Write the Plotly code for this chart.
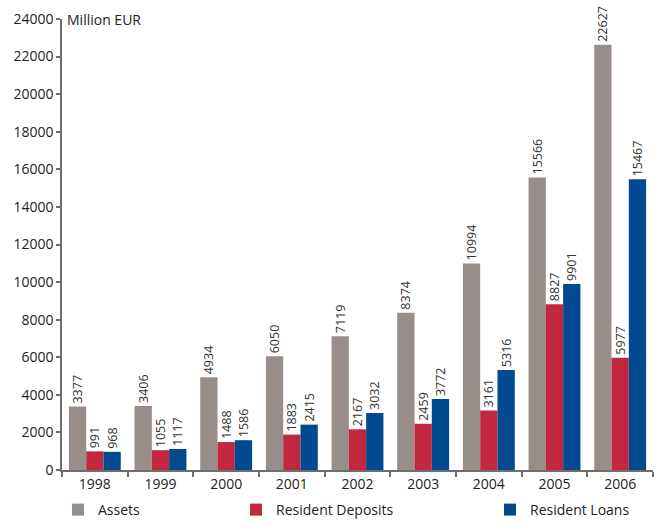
import plotly.graph_objects as go

years = ["1998", "1999", "2000", "2001", "2002", "2003", "2004", "2005", "2006"]
assets = [3377, 3406, 4934, 6050, 7119, 8374, 10994, 15566, 22627]
deposits = [991, 1055, 1488, 1883, 2167, 2459, 3161, 8827, 5977]
loans = [968, 1117, 1586, 2415, 3032, 3772, 5316, 9901, 15467]
y_ticks = list(range(0, 24001, 2000))
y_ticktext = [str(v) for v in y_ticks]

FONT = "Open Sans"
W, H = 656, 522
ML, MR, MT, MB = 62, 3, 19, 52

series = [
    ("Assets", assets, "#978E89", "legend"),
    ("Resident Deposits", deposits, "#C1283F", "legend2"),
    ("Resident Loans", loans, "#014A8F", "legend3"),
]

fig = go.Figure()
for name, vals, col, lg in series:
    fig.add_trace(go.Bar(
        x=years, y=vals, name=name, marker=dict(color=col, line=dict(width=0)),
        text=[str(v) for v in vals], textposition="outside", textangle=-90,
        constraintext="none",
        textfont=dict(family=FONT, size=12.5, color="#333333"),
        cliponaxis=False, legend=lg,
    ))

pw = W - ML - MR
def px2paper(px):
    return (px - ML) / pw

legend_common = dict(orientation="h", yanchor="middle", xanchor="left", yref="container",
                     font=dict(family=FONT, size=14, color="#222222"),
                     bgcolor="rgba(0,0,0,0)", itemwidth=30)
ly = 1 - 510 / H
fig.update_layout(
    width=W, height=H,
    margin=dict(l=ML, r=MR, t=MT, b=MB, pad=0, autoexpand=False),
    paper_bgcolor="white", plot_bgcolor="white",
    barmode="group", bargap=0.21, bargroupgap=0,
    font=dict(family=FONT, size=14, color="#222222"),
    showlegend=True,
    legend=dict(x=px2paper(58), y=ly, **legend_common),
    legend2=dict(x=px2paper(236), y=ly, **legend_common),
    legend3=dict(x=px2paper(490), y=ly, **legend_common),
    xaxis=dict(showline=True, linecolor="#6E6E6E", linewidth=1.5,
               ticks="outside", ticklen=5, tickcolor="#6E6E6E", tickwidth=1.5,
               tickson="boundaries", showgrid=False, automargin=False,
               tickfont=dict(family=FONT, size=14, color="#222222")),
    yaxis=dict(range=[0, 24000], tickvals=y_ticks, ticktext=y_ticktext, showline=True,
               linecolor="#6E6E6E", linewidth=1.5, ticks="outside", ticklen=4,
               tickcolor="#6E6E6E", tickwidth=1.5, showgrid=False, zeroline=False,
               automargin=False,
               tickfont=dict(family=FONT, size=14, color="#222222")),
    annotations=[dict(text="Million EUR", xref="paper", yref="y", x=px2paper(65), y=24000,
                      xanchor="left", yanchor="middle", showarrow=False,
                      font=dict(family=FONT, size=14, color="#222222"))],
)

fig.write_html("out.html")
